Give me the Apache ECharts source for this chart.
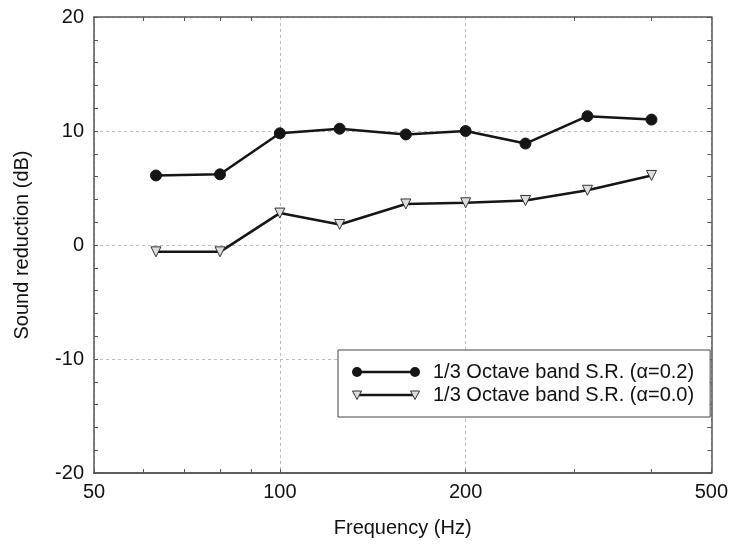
<!DOCTYPE html>
<html>
<head>
<meta charset="utf-8">
<script src="https://cdn.jsdelivr.net/npm/echarts@6/dist/echarts.min.js"></script>
<style>
  html, body { margin: 0; padding: 0; background: #fff; }
  #chart { width: 731px; height: 546px; }
</style>
</head>
<body>
<div id="chart"></div>
<script>
// 1/3 octave band centre frequencies (Hz)
const freqs = [63, 80, 100, 125, 160, 200, 250, 315, 400];
const srAlpha02 = [6.1, 6.2, 9.8, 10.2, 9.7, 10.0, 8.9, 11.3, 11.0];
const srAlpha00 = [-0.6, -0.6, 2.8, 1.8, 3.6, 3.7, 3.9, 4.8, 6.1];
const xMajorTicks = [50, 100, 200, 500];
const xMinorTicks = [60, 70, 80, 90, 300, 400];
const seriesNames = ["1/3 Octave band S.R. (\u03b1=0.2)", "1/3 Octave band S.R. (\u03b1=0.0)"];

const lineColor = "#151515";
const axisColor = "#555";
const font = "Liberation Sans, Arial, sans-serif";

// legend icon: a short line with a marker at each end, plus a blank gap before the text
const svgIcon = (marker) =>
  "image://data:image/svg+xml;charset=utf-8," +
  encodeURIComponent(
    "<svg xmlns='http://www.w3.org/2000/svg' width='76' height='12'>" +
      "<line x1='5' y1='6' x2='63' y2='6' stroke='" + lineColor + "' stroke-width='2.5'/>" +
      marker(5) + marker(63) +
    "</svg>"
  );
const circleMarker = (cx) => "<circle cx='" + cx + "' cy='6' r='5' fill='" + lineColor + "'/>";
const triMarker = (cx) =>
  "<polygon points='" + (cx - 4.5) + ",2 " + (cx + 4.5) + ",2 " + cx + ",10.5' fill='#ddd' stroke='#333' stroke-width='1'/>";

const toPairs = (ys) => freqs.map((f, i) => [f, ys[i]]);

const chart = echarts.init(document.getElementById("chart"));

const minorAxis = (position) => ({
  type: "log",
  position: position,
  min: 50,
  max: 500,
  axisLine: { show: true, onZero: false, lineStyle: { color: axisColor, width: 1.5 } },
  axisTick: { show: true, inside: true, length: 4, customValues: xMinorTicks, lineStyle: { color: axisColor } },
  axisLabel: { show: false },
  splitLine: { show: false }
});

chart.setOption({
  animation: false,
  textStyle: { fontFamily: font },
  grid: { left: 94, right: 18, top: 17, bottom: 73 },
  legend: {
    orient: "vertical",
    left: 338,
    top: 350,
    padding: [12, 16, 12, 14],
    itemGap: 3,
    itemWidth: 76,
    itemHeight: 12,
    backgroundColor: "#fff",
    borderColor: "#444",
    borderWidth: 1,
    borderRadius: 0,
    textStyle: { fontSize: 20, color: "#111", fontFamily: font },
    data: [
      { name: seriesNames[0], icon: svgIcon(circleMarker) },
      { name: seriesNames[1], icon: svgIcon(triMarker) }
    ]
  },
  xAxis: [
    {
      type: "log",
      min: 50,
      max: 500,
      name: "Frequency (Hz)",
      nameLocation: "middle",
      nameGap: 45,
      nameTextStyle: { fontSize: 20, color: "#111" },
      axisLine: { show: true, onZero: false, lineStyle: { color: axisColor, width: 1.5 } },
      axisTick: { show: true, inside: true, length: 4, customValues: xMajorTicks, lineStyle: { color: axisColor } },
      axisLabel: { customValues: xMajorTicks, fontSize: 20, color: "#111", margin: 9 },
      splitLine: { show: true, lineStyle: { color: "#bbb", type: [3, 3], width: 1 } }
    },
    minorAxis("top"),
    minorAxis("bottom")
  ],
  yAxis: [
    {
      type: "value",
      min: -20,
      max: 20,
      interval: 10,
      name: "Sound reduction (dB)",
      nameLocation: "middle",
      nameGap: 62,
      nameTextStyle: { fontSize: 20, color: "#111" },
      axisLine: { show: true, onZero: false, lineStyle: { color: axisColor, width: 1.5 } },
      axisTick: { show: true, inside: true, length: 4, lineStyle: { color: axisColor } },
      minorTick: { show: true, splitNumber: 5, length: 4, lineStyle: { color: axisColor } },
      axisLabel: { fontSize: 20, color: "#111", margin: 10 },
      splitLine: { show: true, lineStyle: { color: "#bbb", type: [3, 3], width: 1 } }
    },
    {
      type: "value",
      position: "right",
      min: -20,
      max: 20,
      interval: 10,
      axisLine: { show: true, onZero: false, lineStyle: { color: axisColor, width: 1.5 } },
      axisTick: { show: true, inside: true, length: 4, lineStyle: { color: axisColor } },
      minorTick: { show: true, splitNumber: 5, length: 4, lineStyle: { color: axisColor } },
      axisLabel: { show: false },
      splitLine: { show: false }
    }
  ],
  series: [
    {
      name: seriesNames[0],
      type: "line",
      data: toPairs(srAlpha02),
      symbol: "circle",
      symbolSize: 11,
      lineStyle: { color: lineColor, width: 2.5 },
      itemStyle: { color: lineColor, borderColor: lineColor }
    },
    {
      name: seriesNames[1],
      type: "line",
      data: toPairs(srAlpha00),
      symbol: "triangle",
      symbolRotate: 180,
      symbolSize: 10,
      lineStyle: { color: lineColor, width: 2.5 },
      itemStyle: { color: "#ddd", borderColor: "#333", borderWidth: 1 }
    }
  ]
});
</script>
</body>
</html>
